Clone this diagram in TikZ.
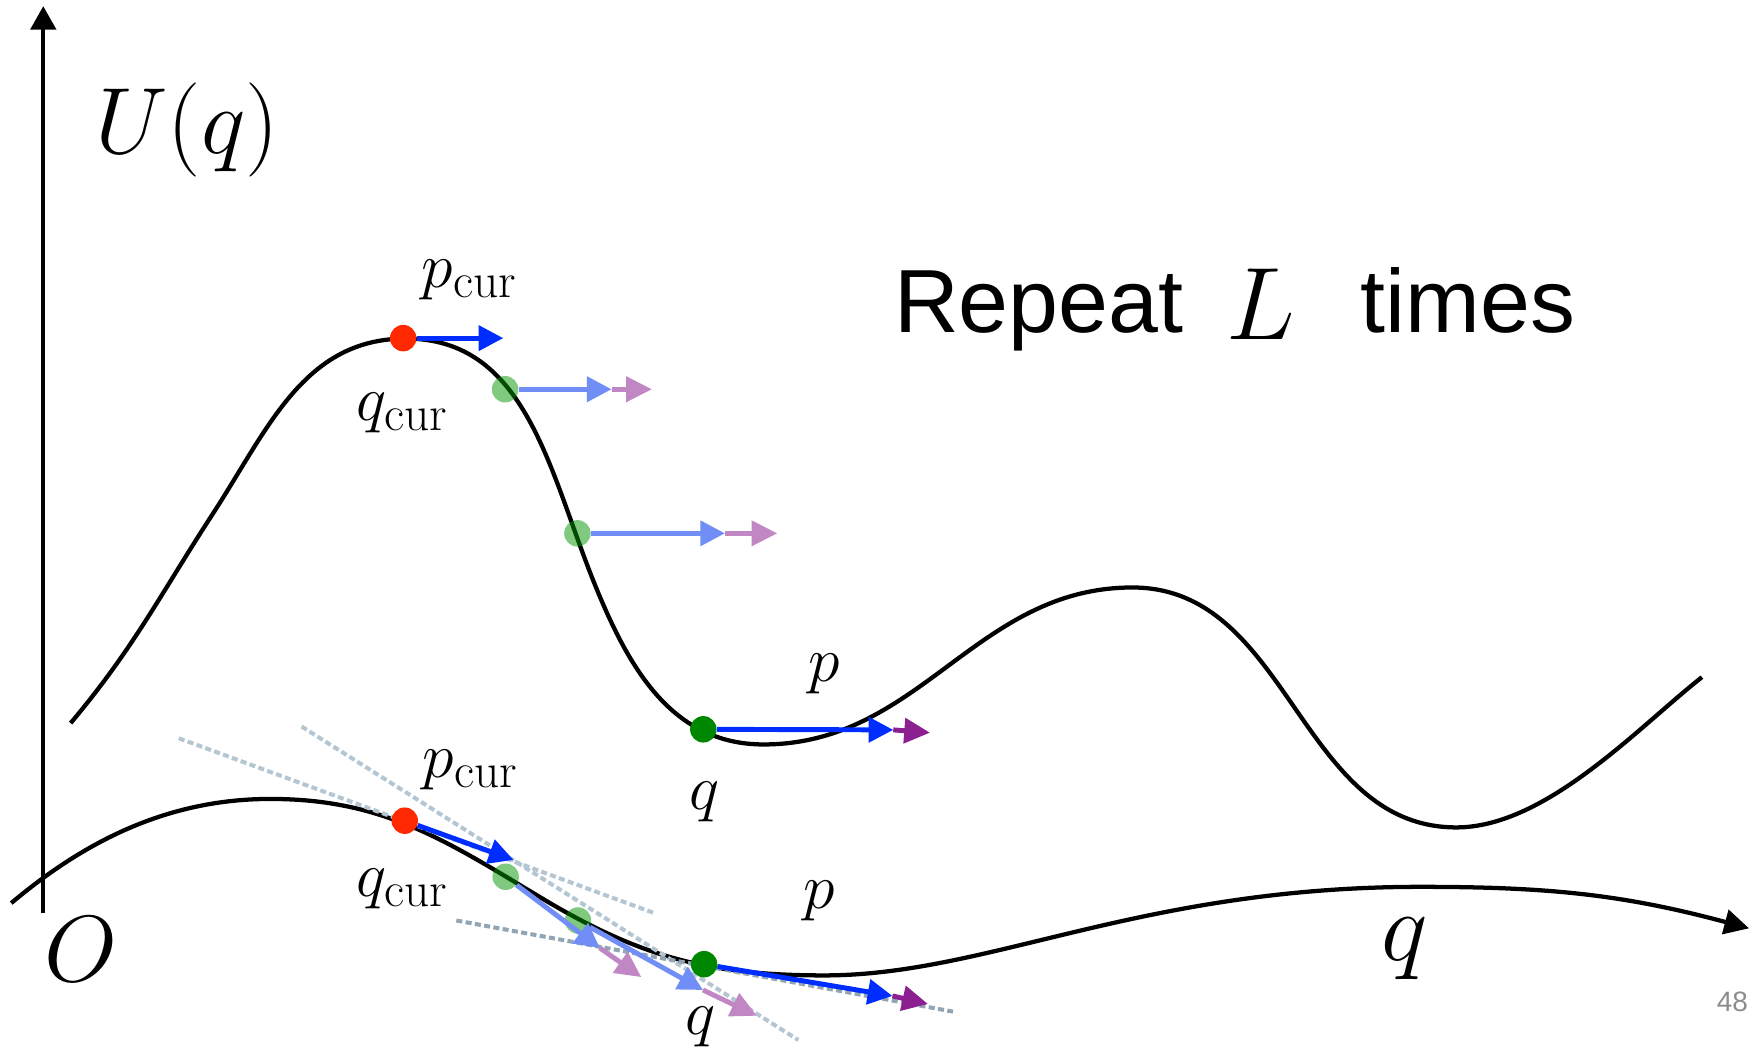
\RequirePackage{fix-cm}
\documentclass[tikz,border=0pt]{standalone}
\usepackage{fontspec}
\newfontfamily\helv{Liberation Sans}
\usetikzlibrary{arrows.meta}
\definecolor{curred}{RGB}{255,40,0}
\definecolor{pblue}{RGB}{0,45,255}
\definecolor{ppurple}{RGB}{140,32,145}
\definecolor{fblue}{RGB}{112,142,245}
\definecolor{fpurple}{RGB}{192,135,196}
\definecolor{qgreen}{RGB}{0,150,0}
\definecolor{qdark}{RGB}{0,135,0}
\definecolor{tanc}{RGB}{180,198,210}
\definecolor{tancdark}{RGB}{145,165,180}
\definecolor{pagegray}{RGB}{140,140,140}
\newcommand{\curtxt}{\mbox{\fontsize{22}{22}\selectfont cur}}

\begin{document}
\begin{tikzpicture}[
  x=0.5pt, y=0.5pt,
  axis/.style={line width=1.8pt, -{Triangle[length=10.5pt,width=11.3pt]}},
  curve/.style={line width=1.9pt},
  dot/.style={circle, inner sep=0pt, minimum size=11.8pt},
  pvec/.style={line width=2.2pt, draw=pblue, -{Triangle[length=11pt,width=11pt]}},
  dvec/.style={line width=2.2pt, draw=ppurple, -{Triangle[length=11.5pt,width=11pt]}},
  faded/.style={draw=fblue},
  fadedd/.style={draw=fpurple},
  tangentline/.style={line width=1.8pt, draw=tanc, dash pattern=on 2.7pt off 1.5pt},
  lbl/.style={inner sep=0pt, font=\fontsize{28.5}{30}\selectfont},
  big/.style={inner sep=0pt, font=\fontsize{42}{44}\selectfont}
]
\useasboundingbox (0,0) rectangle (1568,936);

\coordinate (origin) at (38.6,121.4);
\coordinate (utop) at (38.6,930.5);
\draw[axis] (origin) -- (utop);

\draw[curve] (63,291) to[out=50,in=237] (190,478) to[out=57,in=180] (362,634)
  to[out=0,in=112] (530,416) to[out=-68,in=180] (681,272)
  to[out=0,in=180] (1010,412) to[out=0,in=180] (1299,198)
  to[out=0,in=218,out looseness=0.8,in looseness=0.7] (1518,332);

\draw[curve, -{Triangle[length=11pt,width=11pt]}] (10,130.5)
  to[out=40,in=180,out looseness=0.8] (241,223.4) to[out=0,in=149] (483,135)
  to[out=-31,in=180] (735,66)
  to[out=0,in=180,out looseness=0.7,in looseness=1.2] (1267,145)
  to[out=0,in=165] (1560,108);

\coordinate (t1a) at (159.5,277.5);
\coordinate (t1b) at (584,121.4);
\coordinate (t2a) at (269,288);
\coordinate (t2b) at (712,8.4);
\coordinate (t3a) at (407,115);
\coordinate (t3b) at (850,33.7);
\draw[tangentline] (t1a) -- (t1b);
\draw[tangentline] (t2a) -- (t2b);
\draw[tangentline, draw=tancdark] (t3a) -- (t3b);

\node[dot, fill=curred] (redtop) at (359.6,634.4) {};
\node[dot, fill=qgreen, fill opacity=0.5] (g1top) at (450.5,588.8) {};
\node[dot, fill=qgreen, fill opacity=0.5] (g2top) at (515,460.3) {};
\node[dot, fill=qdark] (gtop) at (627.3,285.5) {};

\node[dot, fill=curred] (redbot) at (361,204) {};
\node[dot, fill=qgreen, fill opacity=0.5] (g1bot) at (451,154) {};
\node[dot, fill=qgreen, fill opacity=0.5] (g2bot) at (515.5,115) {};
\node[dot, fill=qdark] (gbot) at (628,76) {};

\coordinate (ptop0) at (448.9,634.4);
\coordinate (ptop1) at (545.5,588.8);
\coordinate (dtop1) at (581.5,588.8);
\coordinate (ptop2) at (646.6,460.3);
\coordinate (dtop2) at (693.3,460.3);
\coordinate (ptop3) at (796.7,285);
\coordinate (dtop3) at (829.5,282.5);
\draw[pvec] (redtop) -- (ptop0);
\draw[dvec, fadedd] (ptop1) -- (dtop1);
\draw[pvec, faded] (g1top) -- (ptop1);
\draw[dvec, fadedd] (ptop2) -- (dtop2);
\draw[pvec, faded] (g2top) -- (ptop2);
\draw[dvec] (ptop3) -- (dtop3);
\draw[pvec] (gtop) -- (ptop3);

\coordinate (pbot0) at (458,169);
\coordinate (pbot1) at (535,90.5);
\coordinate (dbot1) at (572,64.5);
\coordinate (pbot2) at (627,53);
\coordinate (dbot2) at (675,30);
\coordinate (pbot3) at (796,47.7);
\coordinate (dbot3) at (827.7,40.5);
\draw[pvec] (redbot) -- (pbot0);
\draw[dvec, fadedd] (pbot1) -- (dbot1);
\draw[pvec, faded] (g1bot) -- (pbot1);
\draw[dvec, fadedd] (pbot2) -- (dbot2);
\draw[pvec, faded] (g2bot) -- (pbot2);
\draw[dvec] (pbot3) -- (dbot3);
\draw[pvec] (gbot) -- (pbot3);

\node[big] (Uq) at (167,820.3) {$U(q)$};
\node[big] (O) at (72,89.5) {$O$};
\node[big, font=\fontsize{44}{46}\selectfont] (qaxis) at (1253,89.5) {$q$};

\node[lbl] (pcurtop) at (418.5,686) {$p_{\curtxt}$};
\node[lbl] (qcurtop) at (359,567.4) {$q_{\curtxt}$};
\node[lbl] (ptop) at (735,335) {$p$};
\node[lbl] (qtop) at (628,220.4) {$q$};
\node[lbl] (pcurbot) at (419.5,249) {$p_{\curtxt}$};
\node[lbl] (qcurbot) at (359,143) {$q_{\curtxt}$};
\node[lbl] (pbot) at (730.5,132.5) {$p$};
\node[lbl] (qbot) at (625,20) {$q$};

\node[inner sep=0pt, anchor=base west, font=\helv\fontsize{40}{40}\selectfont] (repeat) at (797,639.3)
  {Repeat\hspace{19.5pt}\raisebox{-3pt}{\fontsize{46}{46}\selectfont$L$}\hspace{29pt}times};
\node[inner sep=0pt, anchor=base east, font=\helv\fontsize{12.5}{13}\selectfont, text=pagegray] (page) at (1559.5,33.7) {48};
\end{tikzpicture}
\end{document}
